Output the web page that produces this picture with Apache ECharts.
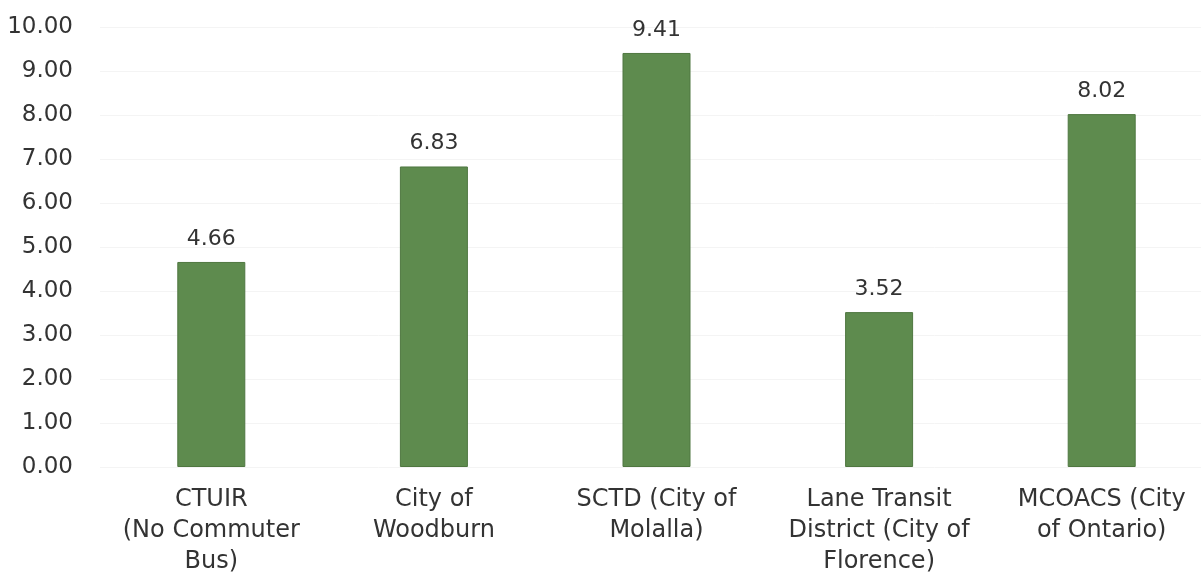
<!DOCTYPE html>
<html>
<head>
<meta charset="utf-8">
<script src="https://cdn.jsdelivr.net/npm/echarts@6/dist/echarts.min.js"></script>
<style>html,body{margin:0;padding:0;background:#fff;overflow:hidden;width:1201px;height:584px}#c{width:1213px;height:584px}</style>
</head>
<body>
<div id="c"></div>
<script>
const categories = ["CTUIR\n(No Commuter\nBus)", "City of\nWoodburn", "SCTD (City of\nMolalla)", "Lane Transit\nDistrict (City of\nFlorence)", "MCOACS (City\nof Ontario)"];
const values = [4.66, 6.83, 9.41, 3.52, 8.02];
const yMin = 0, yMax = 10, yStep = 1;

const FONT = "DejaVu Sans";
const chart = echarts.init(document.getElementById('c'), null, {renderer: 'canvas'});
chart.setOption({
  animation: false,
  backgroundColor: '#ffffff',
  grid: {left: 100, right: 0, top: 27, bottom: 117, containLabel: false},
  xAxis: {
    type: 'category',
    data: categories,
    axisLine: {show: false},
    axisTick: {show: false},
    axisLabel: {color: '#333333', fontFamily: FONT, fontSize: 24, lineHeight: 31, margin: 17, interval: 0}
  },
  yAxis: {
    type: 'value',
    min: yMin, max: yMax, interval: yStep,
    axisLine: {show: false},
    axisTick: {show: false},
    splitLine: {lineStyle: {color: '#f4f4f4', width: 1}},
    axisLabel: {color: '#333333', fontFamily: FONT, fontSize: 23, margin: 27, formatter: v => v.toFixed(2)}
  },
  series: [{
    type: 'bar',
    data: values,
    barWidth: 68,
    itemStyle: {color: '#5e8b4e', borderColor: '#4f7740', borderWidth: 1},
    label: {show: true, position: 'top', distance: 12, color: '#333333', fontFamily: FONT, fontSize: 22, formatter: p => p.value.toFixed(2)}
  }]
});
</script>
</body>
</html>
